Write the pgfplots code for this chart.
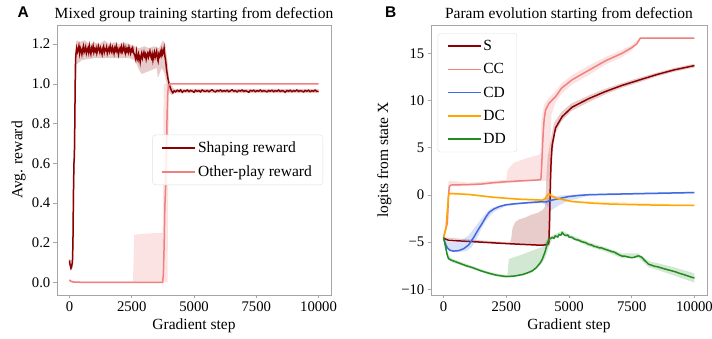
\documentclass[border=0pt]{standalone}
\usepackage{fontspec}
\setmainfont{Liberation Serif}
\newfontfamily\panelfont{Liberation Sans}
\usepackage{pgfplots}
\pgfplotsset{compat=1.18}
\definecolor{cS}{HTML}{8B0000}
\definecolor{cCC}{HTML}{F08080}
\definecolor{cCD}{HTML}{4169E1}
\definecolor{cDC}{HTML}{FFA500}
\definecolor{cDD}{HTML}{228B22}
\newcommand{\fs}{\fontsize{15.5}{18}\selectfont}
\newcommand{\ft}{\fontsize{14.7}{17}\selectfont}
\pgfplotsset{
  panel/.style={
    scale only axis, height=270pt,
    xmin=-500, xmax=10500, scaled x ticks=false,
    clip mode=individual,
    axis line style={gray!70, line width=0.6pt},
    tick style={gray!70, line width=0.6pt},
    tick align=outside, major tick length=3.5pt,
    xtick pos=bottom, ytick pos=left,
    xtick={0,2500,5000,7500,10000},
    xticklabels={0,2500,5000,7500,10000},
    ticklabel style={font=\ft},
    xticklabel style={anchor=north, inner sep=0pt, yshift=-3pt},
    yticklabel style={anchor=east, inner sep=0pt, xshift=-3pt},
    title style={font=\fs, at={(0.5,1)}, anchor=base, yshift=0pt},
    xlabel style={font=\fs, at={(axis description cs:0.5,0)}, anchor=base, yshift=-35pt},
    label style={font=\fs},
    legend cell align=left,
    legend image code/.code={\draw[#1, line width=1.5pt] (0pt,0pt) -- (33pt,0pt);},
    legend style={draw=gray!25, rounded corners=3pt, fill=white, fill opacity=0.85, text opacity=1,
      font=\fs, row sep=7.5pt, inner xsep=9pt, inner ysep=5pt},
  },
}
\begin{document}
\begin{tikzpicture}
\useasboundingbox (0,0) rectangle (712pt,339pt);
% ---------------- Panel A ----------------
\begin{axis}[panel, at={(57pt,44pt)}, anchor=south west, width=274pt,
  ymin=-0.064, ymax=1.297,
  ytick={0,0.2,0.4,0.6,0.8,1.0,1.2},
  yticklabels={0.0,0.2,0.4,0.6,0.8,1.0,1.2},
  title={Mixed group training starting from defection},
  xlabel={Gradient step}, ylabel={Avg. reward},
  ylabel style={at={([xshift=-34.5pt]axis description cs:0,0.5)}, anchor=base},
  legend style={at={(0.971,0.407)}, anchor=south east},
]
\node[anchor=base west, font=\panelfont\bfseries\fs] at (axis description cs:-0.157,1.026) {A};
% shaping band
\addplot[draw=none, fill=cS, fill opacity=0.2, forget plot] coordinates {
(0,0.12) (100,0.11) (130,0.3) (160,0.65) (200,0.9) (230,1.15) (260,1.21) (300,1.22)
(400,1.21) (600,1.22) (800,1.20) (1000,1.21) (1200,1.20) (1400,1.22) (1600,1.20) (1800,1.21)
(2000,1.20) (2200,1.21) (2400,1.20) (2600,1.19) (2800,1.18) (3000,1.19) (3200,1.18) (3400,1.19)
(3600,1.18) (3750,1.22) (3850,1.20) (3950,1.10) (4000,1.02) (4100,0.99) (4200,0.975) (10000,0.975)
(10000,0.953) (4200,0.953) (4100,0.945) (4050,0.95) (3950,0.97) (3900,1.00) (3800,1.06) (3700,1.08)
(3550,1.03) (3500,1.08) (3300,1.07) (3100,1.06) (2900,1.05) (2800,1.07) (2700,1.10) (2600,1.12)
(2400,1.13) (2000,1.13) (1500,1.13) (1000,1.13) (500,1.12) (300,1.10) (260,1.0) (230,0.8)
(200,0.45) (170,0.2) (140,0.08) (100,0.065) (60,0.06) (0,0.10)} -- cycle;
% other-play band
\addplot[draw=none, fill=cCC, fill opacity=0.22, forget plot] coordinates {
(0,0.015) (200,0.005) (2550,0.005) (2600,0.24) (3000,0.245) (3740,0.25) (3760,0.5) (3780,1.0) (10000,1.0)
(10000,1.0) (4050,1.0) (4000,0.95) (3960,0.5) (3940,0.0) (0,0.0)} -- cycle;
\addplot[color=cS, line width=1.5pt, no marks] coordinates {
(0,0.11) (20,0.09) (40,0.08) (60,0.07) (80,0.075) (100,0.09) (120,0.10) (140,0.20) (160,0.45)
(180,0.60) (200,0.64) (215,0.80) (230,1.00) (245,1.12) (260,1.15)
(290,1.18) (320,1.16) (350,1.17) (380,1.19) (410,1.155) (440,1.18) (470,1.17) (500,1.15) (530,1.175) (560,1.19)
(590,1.16) (620,1.17) (650,1.185) (680,1.155) (710,1.17) (740,1.18) (770,1.16) (800,1.19) (830,1.165)
(860,1.15) (890,1.18) (920,1.17) (950,1.19) (980,1.16) (1010,1.175) (1040,1.165) (1070,1.18) (1100,1.155)
(1130,1.17) (1160,1.19) (1190,1.175) (1220,1.16) (1250,1.18) (1280,1.165) (1310,1.15) (1340,1.18) (1370,1.19)
(1400,1.16) (1430,1.175) (1460,1.17) (1490,1.185) (1520,1.155) (1550,1.17) (1580,1.18) (1610,1.165) (1640,1.19)
(1670,1.17) (1700,1.16) (1730,1.185) (1760,1.175) (1790,1.155) (1820,1.18) (1850,1.17) (1880,1.19) (1910,1.165)
(1940,1.175) (1970,1.15) (2000,1.17) (2030,1.18) (2060,1.165) (2090,1.185) (2120,1.16) (2150,1.17) (2180,1.19)
(2210,1.17) (2240,1.155) (2270,1.18) (2300,1.165) (2330,1.175) (2360,1.16) (2390,1.185) (2420,1.17) (2450,1.155)
(2480,1.175) (2510,1.165) (2540,1.18) (2570,1.16) (2600,1.15) (2630,1.14) (2660,1.125) (2690,1.16) (2720,1.13)
(2750,1.12) (2780,1.15) (2810,1.135) (2840,1.11) (2870,1.14) (2900,1.155) (2930,1.13) (2960,1.145) (2990,1.16)
(3020,1.14) (3050,1.15) (3080,1.125) (3110,1.145) (3140,1.155) (3170,1.135) (3200,1.15) (3230,1.165) (3260,1.14)
(3290,1.13) (3320,1.15) (3350,1.12) (3380,1.145) (3410,1.16) (3440,1.135) (3470,1.15) (3500,1.165) (3530,1.13)
(3560,1.115) (3590,1.15) (3620,1.14) (3650,1.16) (3680,1.145) (3710,1.17) (3740,1.15) (3770,1.16) (3800,1.18)
(3830,1.14) (3860,1.12) (3900,1.07) (3950,1.03)
(4000,1.00) (4050,0.98) (4100,0.965) (4150,0.955) (4200,0.965)
(4260,0.960) (4330,0.968) (4400,0.962) (4460,0.970) (4530,0.958) (4600,0.966) (4660,0.963) (4730,0.969)
(4800,0.961) (4860,0.967) (4930,0.964) (5000,0.958) (5060,0.968) (5130,0.963) (5200,0.966) (5260,0.960)
(5330,0.969) (5400,0.964) (5460,0.962) (5530,0.967) (5600,0.961) (5660,0.966) (5730,0.970) (5800,0.963)
(5860,0.960) (5930,0.967) (6000,0.964) (6060,0.969) (6130,0.962) (6200,0.966) (6260,0.963) (6330,0.968)
(6400,0.961) (6460,0.965) (6530,0.970) (6600,0.963) (6660,0.966) (6730,0.960) (6800,0.967) (6860,0.964)
(6930,0.969) (7000,0.962) (7060,0.966) (7130,0.963) (7200,0.958) (7260,0.967) (7330,0.964) (7400,0.968)
(7460,0.961) (7530,0.966) (7600,0.963) (7660,0.969) (7730,0.962) (7800,0.966) (7860,0.964) (7930,0.960)
(8000,0.967) (8060,0.963) (8130,0.968) (8200,0.961) (8260,0.966) (8330,0.963) (8400,0.969) (8460,0.962)
(8530,0.966) (8600,0.964) (8660,0.958) (8730,0.967) (8800,0.963) (8860,0.968) (8930,0.961) (9000,0.966)
(9060,0.963) (9130,0.969) (9200,0.962) (9260,0.966) (9330,0.964) (9400,0.960) (9460,0.967) (9530,0.963)
(9600,0.968) (9660,0.961) (9730,0.966) (9800,0.963) (9860,0.969) (9930,0.962) (10000,0.963)};
\addlegendentry{Shaping reward}
\addplot[color=cCC, line width=1.5pt, no marks] coordinates {
(0,0.012) (50,0.006) (100,0.003) (200,0.001) (500,0.0) (3740,0.0) (3770,0.04) (3800,0.18) (3830,0.38)
(3860,0.48) (3890,0.62) (3920,0.85) (3950,0.96) (3980,0.99) (4020,1.0) (10000,1.0)};
\addlegendentry{Other-play reward}
\end{axis}
% ---------------- Panel B ----------------
\begin{axis}[panel, at={(431pt,44pt)}, anchor=south west, width=276pt,
  ymin=-10.6, ymax=18,
  ytick={-10,-5,0,5,10,15},
  yticklabels={−10,−5,0,5,10,15},
  title={Param evolution starting from defection},
  xlabel={Gradient step}, ylabel={logits from state X},
  ylabel style={at={([xshift=-43pt]axis description cs:0,0.5)}, anchor=base},
  legend style={at={(0.024,0.970)}, anchor=north west},
]
\node[anchor=base west, font=\panelfont\bfseries\fs] at (axis description cs:-0.179,1.026) {B};
% S
\addplot[draw=none, fill=cS, fill opacity=0.2, forget plot] coordinates {
(0,-4.5) (2650,-5.05) (2700,-4.6) (2750,-3.5) (2850,-2.9) (3000,-2.6) (3250,-2.4) (3500,-2.1)
(3750,-1.9) (3950,-1.6) (4050,-1.2) (4100,2.0) (4150,4.0) (4250,5.5) (4400,7.6) (4700,8.8) (5100,9.7)
(5800,10.55) (6450,11.25) (7113,11.85) (7775,12.4) (8500,12.95) (9200,13.45) (10000,13.9)
(10000,13.5) (9200,13.05) (8500,12.55) (7775,11.9) (7113,11.35) (6450,10.65) (5800,9.85) (5100,8.9)
(4700,7.8) (4450,6.5) (4350,4.5) (4300,2.0) (4270,-3.0) (4230,-5.35) (4000,-5.4) (2000,-5.15) (0,-4.6)} -- cycle;
\addplot[color=cS, line width=1.5pt, no marks] coordinates {
(0,-4.55) (100,-4.7) (200,-4.8) (500,-4.85) (1000,-4.93) (1500,-5.0) (2000,-5.08) (2500,-5.15)
(3000,-5.22) (3500,-5.28) (3900,-5.33) (4000,-5.3) (4150,-5.25) (4200,-5.0) (4230,-2) (4260,1.5)
(4290,3.8) (4330,5.3) (4463,7.1) (4728,8.3) (5125,9.3) (5787,10.2) (6450,10.95) (7113,11.6)
(7775,12.15) (8500,12.75) (9200,13.25) (10000,13.7)};
\addlegendentry{S}
% CC
\addplot[draw=none, fill=cCC, fill opacity=0.22, forget plot] coordinates {
(0,-4.4) (150,-2) (200,1.5) (300,1.5) (1000,1.3) (2000,1.5) (2500,1.6) (2550,2.6) (2650,3.0)
(2800,3.4) (3200,3.8) (3600,4.1) (3850,4.3) (3880,5.0) (3900,8.0) (4000,9.5) (4200,10.3) (4463,11.0)
(4700,11.8) (5125,12.7) (5787,13.7) (6450,14.6) (7113,15.35) (7500,15.9) (7840,16.7) (10000,16.7)
(10000,16.5) (7840,16.5) (7500,15.3) (7113,14.6) (6450,13.8) (5787,12.7) (5125,11.7) (4700,10.7)
(4463,9.8) (4300,8.5) (4250,5.0) (4200,2.0) (4150,1.5) (3800,1.5) (2000,1.15) (1000,0.95) (300,0.9)
(230,0.5) (170,-3) (0,-4.6)} -- cycle;
\addplot[color=cCC, line width=1.5pt, no marks] coordinates {
(0,-4.5) (150,-3) (200,0) (230,0.9) (300,1.05) (1000,1.1) (1500,1.15) (2000,1.3) (2500,1.4)
(3000,1.48) (3500,1.55) (3850,1.6) (3880,1.7) (3910,3.0) (3935,4.5) (3970,6.5) (4010,8.0) (4066,9.0)
(4200,9.7) (4463,10.4) (4700,11.3) (5125,12.2) (5787,13.2) (6450,14.2) (7113,15.0) (7500,15.6)
(7700,16.0) (7840,16.6) (10000,16.6)};
\addlegendentry{CC}
% CD
\addplot[draw=none, fill=cCD, fill opacity=0.2, forget plot] coordinates {
(0,-4.5) (100,-4.8) (200,-5.0) (400,-5.0) (700,-4.8) (1000,-4.3) (1200,-3.6) (1400,-2.9) (1600,-2.2)
(1800,-1.6) (2000,-1.3) (2477,-0.95) (3140,-0.78) (3934,-0.55) (4200,-0.2) (4500,-0.1) (5000,0.0)
(5788,0.1) (10000,0.35)
(10000,0.15) (5788,-0.1) (5000,-0.6) (4600,-1.1) (4300,-1.6) (4100,-1.1) (3934,-0.85) (3140,-0.97)
(2477,-1.2) (2000,-1.8) (1700,-2.7) (1500,-3.6) (1300,-4.8) (1100,-5.6) (900,-5.95) (600,-6.05)
(400,-6.05) (250,-6.0) (150,-5.75) (0,-4.7)} -- cycle;
\addplot[color=cCD, line width=1.5pt, no marks] coordinates {
(0,-4.6) (80,-5.2) (150,-5.6) (250,-5.85) (400,-5.95) (600,-5.9) (800,-5.7) (1000,-5.3) (1200,-4.5)
(1400,-3.6) (1550,-2.97) (1700,-2.3) (1815,-1.85) (2000,-1.5) (2200,-1.25) (2477,-1.05) (2800,-0.95)
(3140,-0.87) (3500,-0.8) (3934,-0.72) (4100,-0.75) (4200,-0.62) (4500,-0.45) (4993,-0.17) (5400,-0.05)
(5788,0.02) (6500,0.07) (7113,0.1) (8000,0.15) (9000,0.2) (10000,0.25)};
\addlegendentry{CD}
% DC
\addplot[draw=none, fill=cDC, fill opacity=0.2, forget plot] coordinates {
(0,-4.4) (100,-3.2) (170,-0.5) (230,0.3) (1000,0.15) (2000,-0.15) (3000,-0.35) (3934,-0.45)
(4150,0.2) (4250,0.25) (4500,-0.2) (5126,-0.6) (10000,-1.05)
(10000,-1.19) (5126,-0.8) (4500,-0.5) (4250,-0.2) (4100,-0.7) (3934,-0.65) (3000,-0.55) (2000,-0.35)
(1000,-0.05) (230,0.0) (190,-1.5) (100,-3.8) (0,-4.6)} -- cycle;
\addplot[color=cDC, line width=1.5pt, no marks] coordinates {
(0,-4.5) (100,-3.5) (170,-1) (200,0.0) (230,0.15) (500,0.12) (1000,0.05) (1500,-0.1) (2000,-0.25)
(2477,-0.35) (3000,-0.45) (3500,-0.5) (3934,-0.55) (4050,-0.4) (4150,0.0) (4200,0.1) (4300,-0.1)
(4500,-0.35) (5126,-0.7) (5800,-0.85) (6450,-0.95) (7500,-1.03) (8500,-1.08) (10000,-1.12)};
\addlegendentry{DC}
% DD
\addplot[draw=none, fill=cDD, fill opacity=0.2, forget plot] coordinates {
(0,-4.4) (150,-6.1) (300,-6.7) (1152,-7.55) (1815,-8.15) (2477,-8.5) (2550,-8.45) (2600,-6.8)
(2800,-6.6) (3140,-6.3) (3536,-5.9) (3934,-5.5) (4150,-4.6) (4331,-4.3) (4728,-3.8) (5126,-4.3)
(5788,-5.0) (6450,-5.55) (7113,-6.2) (7775,-6.2) (8172,-7.0) (9099,-7.6) (10000,-8.3)
(10000,-9.3) (9099,-8.45) (8172,-7.65) (7775,-6.7) (7113,-6.7) (6450,-6.0) (5788,-5.45) (5126,-4.7)
(4728,-4.2) (4331,-4.7) (4200,-5.5) (4050,-6.7) (3934,-7.2) (3536,-8.2) (3140,-8.6) (2477,-8.8)
(1815,-8.45) (1152,-7.85) (300,-7.1) (150,-6.7) (0,-4.6)} -- cycle;
\addplot[color=cDD, line width=1.5pt, no marks] coordinates {
(0,-4.5) (80,-5.5) (150,-6.4) (200,-6.75) (300,-6.9) (600,-7.2) (900,-7.5) (1152,-7.7) (1500,-8.05)
(1815,-8.3) (2100,-8.5) (2477,-8.64) (2800,-8.6) (3140,-8.43) (3350,-8.25) (3536,-8.04) (3700,-7.7)
(3850,-7.2) (3934,-6.82) (4050,-6.0) (4150,-5.0) (4200,-4.72) (4331,-4.5) (4400,-4.6) (4450,-4.35)
(4550,-4.45) (4600,-4.2) (4680,-4.25) (4728,-4.0) (4800,-4.2) (4850,-4.3) (4950,-4.25) (5000,-4.45)
(5126,-4.5) (5200,-4.65) (5300,-4.75) (5400,-4.8) (5500,-4.95) (5650,-5.05) (5788,-5.24) (5900,-5.3)
(6000,-5.45) (6100,-5.5) (6200,-5.6) (6300,-5.62) (6450,-5.77) (6550,-5.85) (6700,-6.0) (6800,-6.05)
(6900,-6.2) (7000,-6.35) (7113,-6.47) (7250,-6.5) (7400,-6.6) (7500,-6.65) (7600,-6.6) (7700,-6.5)
(7775,-6.45) (7850,-6.55) (7900,-6.6) (8000,-6.9) (8100,-7.15) (8172,-7.34) (8300,-7.45) (8400,-7.55)
(8550,-7.62) (8700,-7.75) (8900,-7.9) (9099,-8.04) (9250,-8.15) (9400,-8.3) (9550,-8.42) (9700,-8.55)
(9850,-8.68) (10000,-8.81)};
\addlegendentry{DD}
\end{axis}
\end{tikzpicture}
\end{document}
